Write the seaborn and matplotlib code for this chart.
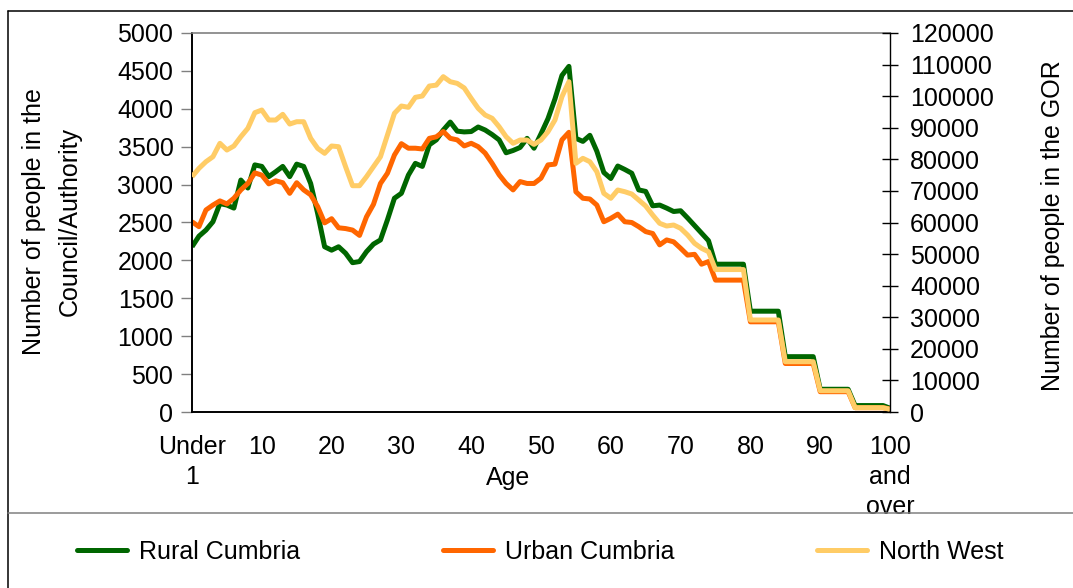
import seaborn as sns
import pandas as pd
import matplotlib
matplotlib.use('Agg')
import matplotlib.pyplot as plt
from matplotlib.lines import Line2D

ages = list(range(101))

rural = [2180, 2320, 2400, 2510, 2750, 2730, 2690, 3060, 2955, 3260,
         3240, 3105, 3170, 3240, 3105, 3270, 3240, 3015, 2620, 2180,
         2135, 2180, 2095, 1970, 1985, 2115, 2215, 2270, 2535, 2820,
         2885, 3125, 3280, 3240, 3525, 3590, 3720, 3825, 3705, 3695,
         3700, 3760, 3720, 3660, 3590, 3420, 3450, 3490, 3610, 3480,
         3670, 3870, 4130, 4440, 4560, 3610, 3570, 3650, 3440, 3160,
         3080, 3245, 3200, 3150, 2930, 2910, 2720, 2730, 2690, 2645,
         2655, 2560, 2460, 2360, 2260, 1950, 1950, 1950, 1950, 1950,
         1330, 1330, 1330, 1330, 1330, 730, 730, 730, 730, 730,
         300, 300, 300, 300, 300, 85, 85, 85, 85, 85,
         50]

urban = [2510, 2445, 2665, 2730, 2785, 2745, 2820, 2930, 3015, 3155,
         3125, 3010, 3050, 3025, 2885, 3025, 2930, 2865, 2710, 2495,
         2550, 2430, 2420, 2400, 2330, 2575, 2740, 3015, 3150, 3390,
         3540, 3480, 3480, 3470, 3610, 3630, 3700, 3610, 3590, 3510,
         3545, 3500, 3415, 3280, 3130, 3015, 2930, 3040, 3015, 3015,
         3085, 3260, 3270, 3590, 3690, 2905, 2820, 2810, 2730, 2510,
         2555, 2610, 2510, 2500, 2445, 2380, 2355, 2205, 2270, 2245,
         2160, 2070, 2080, 1950, 1985, 1740, 1740, 1740, 1740, 1740,
         1190, 1190, 1190, 1190, 1190, 640, 640, 640, 640, 640,
         268, 268, 268, 268, 268, 57, 57, 57, 57, 57,
         40]

north_west = [74500, 77150, 79250, 80830, 85070, 82950, 84220, 87170, 89820, 94770,
              95610, 92450, 92450, 94250, 91180, 91910, 91910, 86650, 83480, 81900,
              84220, 84000, 77680, 71650, 71650, 74500, 77680, 80830, 87700, 94570,
              96880, 96470, 99630, 100050, 103200, 103500, 106170, 104580, 104050, 102600,
              99300, 96150, 94030, 92990, 90330, 87170, 85070, 86110, 86110, 84740,
              86110, 88740, 92450, 99830, 104580, 78740, 80320, 79250, 76080, 69240,
              67660, 70290, 69750, 69020, 67120, 65220, 62370, 59740, 58890, 59200,
              58160, 56040, 53410, 51830, 50750, 45100, 45100, 45100, 45100, 45100,
              29130, 29130, 29130, 29130, 29130, 15930, 15930, 15930, 15930, 15930,
              6740, 6740, 6740, 6740, 6740, 1360, 1360, 1360, 1360, 1360,
              850]

tick_pos = [0, 10, 20, 30, 40, 50, 60, 70, 80, 90, 100]
tick_labels = ['Under\n1', '10', '20', '30', '40', '50', '60', '70', '80', '90', '100\nand\nover']

df = pd.DataFrame({'age': ages, 'rural': rural, 'urban': urban, 'nw': north_west})

sns.set_style('white')
plt.rcParams['font.family'] = ['Liberation Sans', 'DejaVu Sans']
plt.rcParams['text.color'] = 'black'
plt.rcParams['xtick.labelcolor'] = 'black'
plt.rcParams['ytick.labelcolor'] = 'black'
fs = 18
plt.rcParams['font.size'] = fs

fig = plt.figure(figsize=(10.73, 5.88), dpi=100)
ax = fig.add_axes([192 / 1073, 1 - 412 / 588, 698 / 1073, 379 / 588])
ax2 = ax.twinx()

kw = dict(linewidth=3.6, solid_joinstyle='round', solid_capstyle='butt')
sns.lineplot(data=df, x='age', y='rural', ax=ax, color='#006600', label='Rural Cumbria', **kw)
sns.lineplot(data=df, x='age', y='urban', ax=ax, color='#FF6600', label='Urban Cumbria', **kw)
sns.lineplot(data=df, x='age', y='nw', ax=ax2, color='#FFCC66', label='North West', **kw)
ax.get_legend().remove()
ax2.get_legend().remove()

ax.set_xlim(0, 100)
ax.set_ylim(0, 5000)
ax2.set_ylim(0, 120000)
ax.set_yticks(range(0, 5001, 500))
ax2.set_yticks(range(0, 120001, 10000))
ax.set_xticks(tick_pos)
ax.set_xticklabels(tick_labels, linespacing=1.33)
for lab in ax.get_xticklabels():
    lab.set_verticalalignment('top')

ax.tick_params(axis='y', direction='out', length=7.9, width=1, color='#808080', pad=5.5,
               labelsize=fs, labelcolor='black')
ax.tick_params(axis='x', direction='out', length=5, width=1, color='#808080', pad=11.5,
               labelsize=fs, labelcolor='black')
ax2.tick_params(axis='y', direction='inout', length=11, width=1, color='black', pad=9,
                labelsize=fs, labelcolor='black')

for s in ['left', 'bottom']:
    ax.spines[s].set_color('black')
    ax.spines[s].set_linewidth(1.4)
ax.spines['top'].set_color('#808080')
ax.spines['top'].set_linewidth(1.2)
ax.spines['right'].set_visible(False)
for s in ['left', 'bottom', 'top']:
    ax2.spines[s].set_visible(False)
ax2.spines['right'].set_color('black')
ax2.spines['right'].set_linewidth(1.0)

ax.set_xlabel('')
ax.set_ylabel('')
ax2.set_ylabel('')
fig.text(508 / 1073, 1 - 478 / 588, 'Age', ha='center', va='center', fontsize=fs)
fig.text(51.5 / 1073, 1 - 222 / 588, 'Number of people in the\nCouncil/Authority',
         ha='center', va='center', rotation=90, fontsize=fs, linespacing=1.62)
fig.text(1053 / 1073, 1 - 226 / 588, 'Number of people in the GOR',
         ha='center', va='center', rotation=90, fontsize=fs)

# chart frame and legend box separator
fig.add_artist(Line2D([8 / 1073, 8 / 1073], [0, 1 - 11 / 588], color='black', lw=1.1, transform=fig.transFigure))
fig.add_artist(Line2D([8 / 1073, 1], [1 - 11 / 588, 1 - 11 / 588], color='black', lw=1.1, transform=fig.transFigure))
fig.add_artist(Line2D([8 / 1073, 1], [1 - 513 / 588, 1 - 513 / 588], color='#808080', lw=1.1, transform=fig.transFigure))

handles = ax.get_lines()[:2] + ax2.get_lines()[:1]
handles = [Line2D([], [], color=h.get_color(), lw=3.6) for h in handles]
fig.legend(handles, ['Rural Cumbria', 'Urban Cumbria', 'North West'], loc='center',
           bbox_to_anchor=(540 / 1073, 1 - 552 / 588), ncol=3, frameon=False,
           handlelength=2.0, handletextpad=0.48, columnspacing=5.7, fontsize=fs,
           borderpad=0, borderaxespad=0)

fig.savefig('out.png', dpi=100)
